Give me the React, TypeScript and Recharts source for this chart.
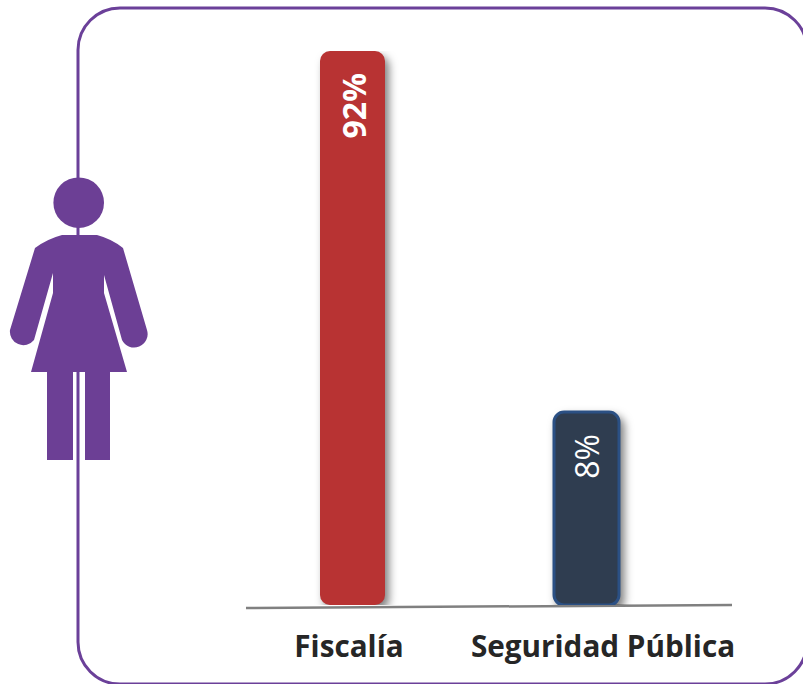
import { Bar, BarChart, Cell, LabelList, XAxis, YAxis } from 'recharts';

const categories = ['Fiscalía', 'Seguridad Pública'];
const shares = [92, 8];
const barFills = ['#b83333', '#2f3d50'];
const barStrokes = ['#b83333', '#2b5084'];
const tickShifts = [-3, 17];

const data = categories.map((name, i) => ({ name, share: shares[i] }));

const PURPLE = '#6c3f95';

function Backdrop() {
  return (
    <svg width={803} height={684} style={{ position: 'absolute', left: 0, top: 0 }}>
      <rect x={78} y={8} width={729} height={676} rx={42} fill="none" stroke="#6b4099" strokeWidth={3} />
      <circle cx={78.7} cy={202.7} r={25.3} fill={PURPLE} />
      <path
        fill={PURPLE}
        d="M62 235 L97 235 Q112 239 123 248 L147 330 A13.5 13.5 0 0 1 122 340 L104 275 L104 293 L127 372 L110 372 L110 460 L85 460 L85 372 L73 372 L73 460 L47 460 L47 372 L31 372 L53 293 L53 273 L34 340 A13.5 13.5 0 0 1 10 330 L35 248 Q47 239 62 235 Z"
      />
      <line x1={246} y1={608} x2={732} y2={605} stroke="#808080" strokeWidth={2.5} />
    </svg>
  );
}

function CategoryTick({ x, y, payload, index }: any) {
  return (
    <text
      x={x + tickShifts[index]}
      y={y + 46}
      textAnchor="middle"
      fontFamily="'Open Sans', sans-serif"
      fontWeight={700}
      fontSize={29.7}
      fill="#262626"
    >
      {payload.value}
    </text>
  );
}

function ShareLabel({ x, y, width, value, index }: any) {
  const cx = x + width / 2 + 1;
  const cy = y + 22;
  return (
    <text
      x={cx}
      y={cy}
      dy={12}
      textAnchor="end"
      transform={`rotate(-90 ${cx} ${cy})`}
      fontFamily="'Open Sans', sans-serif"
      fontWeight={index === 0 ? 700 : 400}
      fontSize={32}
      fill="#ffffff"
    >
      {value}%
    </text>
  );
}

export default function App() {
  return (
    <div style={{ position: 'fixed', left: 0, top: 0, width: 803, height: 684, background: '#fff', overflow: 'hidden' }}>
      <Backdrop />
      <div style={{ position: 'absolute', left: 0, top: 0 }}>
        <BarChart width={803} height={684} data={data} margin={{ top: 51, right: 100, bottom: 0, left: 235 }}>
          <XAxis
            dataKey="name"
            axisLine={false}
            tickLine={false}
            tickMargin={0}
            height={79}
            interval={0}
            tick={<CategoryTick />}
          />
          {/* log scale: the source draws the 8% bar far taller than a linear axis would */}
          <YAxis hide scale="log" domain={[2.17, 92]} allowDataOverflow />
          <Bar
            dataKey="share"
            barSize={65}
            radius={10}
            isAnimationActive={false}
            style={{ filter: 'drop-shadow(4px 5px 4px rgba(0,0,0,0.5))' }}
          >
            {data.map((d, i) => (
              <Cell key={d.name} fill={barFills[i]} stroke={barStrokes[i]} strokeWidth={i === 1 ? 3 : 0} />
            ))}
            <LabelList dataKey="share" content={<ShareLabel />} />
          </Bar>
        </BarChart>
      </div>
    </div>
  );
}
